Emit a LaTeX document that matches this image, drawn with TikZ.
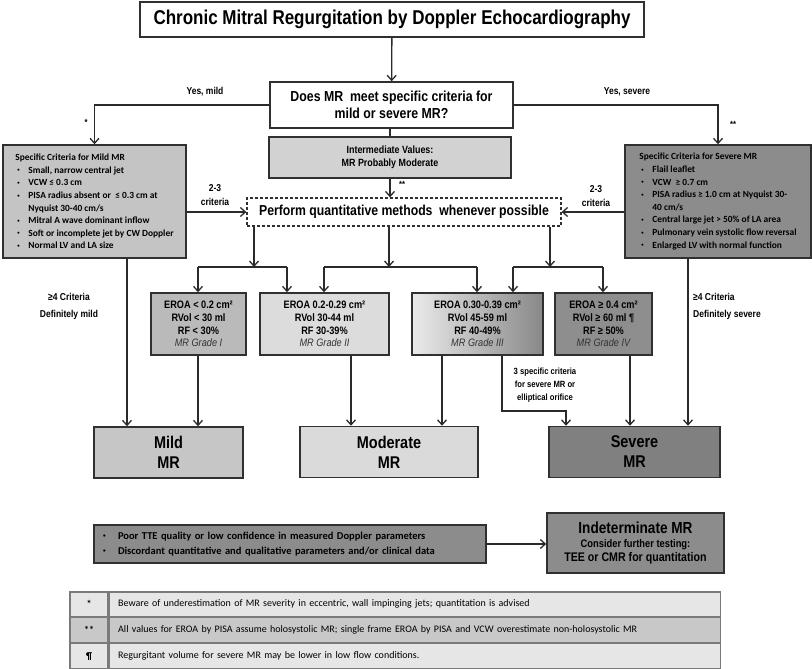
\documentclass[tikz,border=0pt]{standalone}
\usepackage{fontspec}
\setmainfont{Liberation Sans}[FakeStretch=0.85]
\newfontfamily\calfont{Carlito}
\usetikzlibrary{arrows.meta,calc,positioning}

\definecolor{edgegray}{HTML}{303030}
\definecolor{linegray}{HTML}{2A2A2A}
\definecolor{mildcrit}{HTML}{C4C4C4}
\definecolor{sevcrit}{HTML}{8C8C8C}
\definecolor{midgray}{HTML}{D2D2D2}
\definecolor{gradeone}{HTML}{BABABA}
\definecolor{gradetwo}{HTML}{DCDCDC}
\definecolor{gradethreeL}{HTML}{EAEAEA}
\definecolor{gradethreeR}{HTML}{888888}
\definecolor{gradefour}{HTML}{8E8E8E}
\definecolor{mildbox}{HTML}{C6C6C6}
\definecolor{modbox}{HTML}{DADADA}
\definecolor{sevbox}{HTML}{808080}
\definecolor{poorgray}{HTML}{8C8C8C}
\definecolor{rowlight}{HTML}{E6E6E6}
\definecolor{rowdark}{HTML}{C8C8C8}
\definecolor{tablegray}{HTML}{7A7A7A}
\definecolor{gradetext}{HTML}{333333}

\newcommand{\fsz}[2]{\fontsize{#1}{#2}\selectfont}
\newcommand{\dotmark}{\raisebox{0.3ex}{\scalebox{0.5}{\textbullet}}}
\newcommand{\bul}{\makebox[13pt][l]{\hspace*{2pt}\dotmark}}
\newcommand{\pbul}{\makebox[15pt][l]{\dotmark}}
\newcommand{\grd}[1]{{\mdseries\itshape\color{gradetext}#1}}

\begin{document}
\begin{tikzpicture}[x=1pt,y=-1pt,>={Straight Barb[length=5pt,width=9pt]},
  box/.style={draw=edgegray,line width=1.5pt,align=center,inner sep=2pt,font=\bfseries},
  crit/.style={box,align=left,minimum height=113pt,font=\calfont\fsz{9.4}{12.6}\bfseries},
  gradebox/.style={box,minimum height=62pt,font=\fsz{10.8}{12.7}\bfseries},
  result/.style={box,minimum height=51pt,font=\fsz{17}{20}\bfseries},
  conn/.style={draw=linegray,line width=1.3pt},
  arr/.style={conn,->},
  lbl/.style={font=\fsz{10}{14}\bfseries,align=center,inner sep=1pt},
  keycell/.style={draw=tablegray,line width=1.2pt,minimum width=38pt,minimum height=24.7pt,inner sep=0pt,font=\calfont\fsz{10}{12}\bfseries},
  textcell/.style={draw=tablegray,line width=1.2pt,text width=593pt,inner xsep=9pt,minimum height=24.7pt,align=left,anchor=west,font=\calfont\fsz{10}{12}}]
\useasboundingbox (0,0) rectangle (812,669);

% top of the chart
\node[box,fill=white,minimum width=504pt,minimum height=35pt,font=\fsz{20}{22}\bfseries] (title) at (392,19.5) {Chronic Mitral Regurgitation by Doppler Echocardiography};
\node[box,fill=white,minimum width=243pt,minimum height=46pt,font=\fsz{14.5}{17}\bfseries] (question) at (391.5,105) {Does MR~ meet specific criteria for\\mild or severe MR?};
\node[box,fill=midgray,minimum width=242pt,minimum height=41pt,font=\fsz{10.5}{12.5}\bfseries] (interm) at (390,157.5) {Intermediate Values:\\MR Probably Moderate};
\node[box,dashed,dash pattern=on 3pt off 2pt,line width=1.3pt,fill=white,minimum width=314pt,minimum height=28pt,font=\fsz{14.4}{16}\bfseries] (perform) at (404,212) {Perform quantitative methods~ whenever possible};

% specific criteria
\node[crit,fill=mildcrit,minimum width=183pt] (mildspec) at (94.5,201.5) {Specific Criteria for Mild MR\\
\bul Small, narrow central jet\\
\bul VCW ≤ 0.3 cm\\
\bul PISA radius absent or~ ≤ 0.3 cm at\\
\hspace*{13pt}Nyquist 30-40 cm/s\\
\bul Mitral A wave dominant inflow\\
\bul Soft or incomplete jet by CW Doppler\\
\bul Normal LV and LA size};
\node[crit,fill=sevcrit,minimum width=186pt] (sevspec) at (718,201.5) {Specific Criteria for Severe MR\\
\bul Flail leaflet\\
\bul VCW~ ≥ 0.7 cm\\
\bul PISA radius ≥ 1.0 cm at Nyquist 30-\\
\hspace*{13pt}40 cm/s\\
\bul Central large jet > 50\% of LA area\\
\bul Pulmonary vein systolic flow reversal\\
\bul Enlarged LV with normal function};

% grades
\node[gradebox,fill=gradeone,minimum width=95pt] (gradeI) at (198.5,324) {EROA < 0.2 cm²\\RVol < 30 ml\\RF < 30\%\\\grd{MR Grade I}};
\node[gradebox,fill=gradetwo,minimum width=129pt] (gradeII) at (324.5,324) {EROA 0.2-0.29 cm²\\RVol 30-44 ml\\RF 30-39\%\\\grd{MR Grade II}};
\node[gradebox,left color=gradethreeL,right color=gradethreeR,minimum width=131pt] (gradeIII) at (477.5,324) {EROA 0.30-0.39 cm²\\RVol 45-59 ml\\RF 40-49\%\\\grd{MR Grade III}};
\node[gradebox,fill=gradefour,minimum width=97pt] (gradeIV) at (603.5,324) {EROA ≥ 0.4 cm²\\RVol ≥ 60 ml ¶\\RF ≥ 50\%\\\grd{MR Grade IV}};

% results
\node[result,fill=mildbox,minimum width=149pt] (mild) at (168.5,452.5) {Mild\\MR};
\node[result,fill=modbox,minimum width=178pt] (moderate) at (389,452) {Moderate\\MR};
\node[result,fill=sevbox,minimum width=171pt] (severe) at (634.5,452) {Severe\\MR};

% indeterminate
\node[box,fill=poorgray,text width=374pt,inner xsep=9pt,minimum height=38pt,align=left,font=\calfont\fsz{10.5}{15}\bfseries] (poor) at (290,544) {\pbul Poor TTE quality or low confidence in measured Doppler parameters\\
\pbul Discordant quantitative and qualitative parameters and/or clinical data};
\node[box,fill=poorgray,minimum width=177pt,minimum height=60pt,font=\fsz{11}{14}\bfseries] (indet) at (635.5,543) {{\fsz{16}{18}Indeterminate MR}\\Consider further testing:\\{\fsz{12.5}{14}TEE or CMR for quantitation}};

% footnote table
\node[keycell,fill=rowlight] (k1) at (89,604.3) {*};
\node[textcell,fill=rowlight] (t1) at (k1.east) {Beware of underestimation of MR severity in eccentric, wall impinging jets; quantitation is advised};
\node[keycell,fill=rowdark,anchor=north] (k2) at (k1.south) {**};
\node[textcell,fill=rowdark] (t2) at (k2.east) {All values for EROA by PISA assume holosystolic MR; single frame EROA by PISA and VCW overestimate non-holosystolic MR};
\node[keycell,fill=rowlight,anchor=north] (k3) at (k2.south) {¶};
\node[textcell,fill=rowlight] (t3) at (k3.east) {Regurgitant volume for severe MR may be lower in low flow conditions.};

% guide points
\coordinate (xa) at (127,0);
\coordinate (xh) at (198,0);
\coordinate (xb) at (351,0);
\coordinate (xc) at (442,0);
\coordinate (xe) at (566,0);
\coordinate (xf) at (630,0);
\coordinate (xg) at (688,0);
\coordinate (bend) at (502,411);

% connectors
\draw[arr] (title) -- (question);
\draw[arr] (question.west) -| (mildspec.north);
\draw[arr] (question.east) -| (sevspec.north);
\draw[conn] (question.south -| interm) -- (interm.north);
\draw[arr] (interm.south) -- (interm.south |- perform.north);
\draw[arr] (perform.west -| mildspec.east) -- (perform.west);
\draw[arr] (perform.east -| sevspec.west) -- (perform.east);

\foreach \f/\l/\r [count=\i] in {254/198/287,389/324/477,550/513/603}{
  \coordinate (fork\i) at (\f,267);
  \coordinate (left\i) at (\l,267);
  \coordinate (right\i) at (\r,267);
  \draw[arr] (perform.south -| fork\i) -- (fork\i);
  \draw[conn] (left\i) -- (right\i);
  \draw[arr] (left\i) -- (left\i |- gradeI.north);
  \draw[arr] (right\i) -- (right\i |- gradeI.north);
}

\draw[arr] (mildspec.south -| xa) -- (mild.north -| xa);
\draw[arr] (gradeI.south -| xh) -- (mild.north -| xh);
\draw[arr] (gradeII.south -| xb) -- (moderate.north -| xb);
\draw[arr] (gradeIII.south -| xc) -- (moderate.north -| xc);
\draw[arr] (gradeIII.south -| bend) -- (bend) -| (severe.north -| xe);
\draw[arr] (gradeIV.south -| xf) -- (severe.north -| xf);
\draw[arr] (sevspec.south -| xg) -- (severe.north -| xg);
\draw[arr] (poor.east) -- (poor.east -| indet.west);

% labels
\node[lbl] (yesmild) at (205,92) {Yes, mild};
\node[lbl] (yessev) at (627,92) {Yes, severe};
\node[lbl,font=\fsz{9}{10}\bfseries] (starA) at (86,122) {*};
\node[lbl,font=\fsz{9}{10}\bfseries] (starB) at (733,124) {**};
\node[lbl,font=\fsz{9}{10}\bfseries] (starC) at (402,184) {**};
\node[lbl] (critL) at (215,195) {2-3\\criteria};
\node[lbl] (critR) at (596,196) {2-3\\criteria};
\node[lbl,font=\fsz{10}{17}\bfseries] (fourL) at (69,306) {≥4 Criteria\\Definitely mild};
\node[lbl,font=\fsz{10}{17}\bfseries,align=left,anchor=west] (fourR) at (692,306) {≥4 Criteria\\Definitely severe};
\node[lbl,font=\fsz{9}{13}\bfseries] (ellip) at (545,385) {3 specific criteria\\for severe MR or\\elliptical orifice};
\end{tikzpicture}
\end{document}
